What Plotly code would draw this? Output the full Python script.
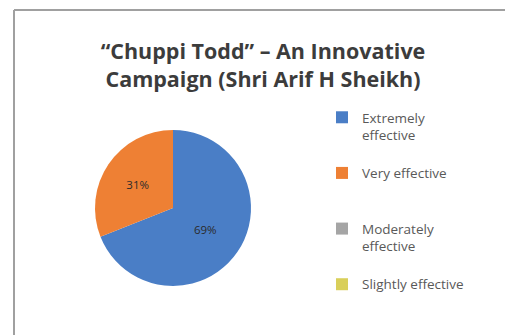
import plotly.graph_objects as go

categories = ["Extremely<br>effective", "Very effective", "Moderately<br>effective", "Slightly effective"]
values = [69, 31, 0, 0]
colors = ["#4A7EC6", "#EE8034", "#A5A5A5", "#D9CF5A"]
title_lines = ["“Chuppi Todd” – An Innovative", "Campaign (Shri Arif H Sheikh)"]

# extra blank lines used only to space the legend entries like the reference
legend_pad = ["<br> ", "<br> <br> ", "<br> ", ""]
legend_labels = [c + p for c, p in zip(categories, legend_pad)]

W, H = 505, 335
cx, cy, d = 173, 208, 156

fig = go.Figure(go.Pie(
    labels=legend_labels,
    values=values,
    marker=dict(colors=colors, line=dict(width=0)),
    sort=False,
    direction="clockwise",
    rotation=0,
    texttemplate="%{percent:.0%}",
    textposition="inside",
    insidetextfont=dict(family="Open Sans", size=11.5, color="#2b2b2b"),
    hovertext=categories,
    hoverinfo="text+percent",
    domain=dict(x=[(cx - d / 2) / W, (cx + d / 2) / W],
                y=[1 - (cy + d / 2) / H, 1 - (cy - d / 2) / H]),
))

fig.update_layout(
    width=W, height=H,
    margin=dict(l=0, r=0, t=0, b=0),
    paper_bgcolor="white",
    title=dict(text="<br>".join(title_lines), x=263 / W, xanchor="center",
               y=1 - 59 / H, yanchor="middle",
               font=dict(family="Open Sans", size=21.5, color="#3C3C3C", weight="bold")),
    legend=dict(x=322 / W, y=1 - 102 / H, xanchor="left", yanchor="top",
                font=dict(family="Open Sans", size=13.5, color="#595959"),
                valign="top", itemwidth=30, tracegroupgap=0,
                bgcolor="rgba(0,0,0,0)"),
    shapes=[
        dict(type="line", xref="paper", yref="paper",
             x0=14 / W, x1=1, y0=1 - 10 / H, y1=1 - 10 / H,
             line=dict(color="#A0A0A0", width=2), layer="below"),
        dict(type="line", xref="paper", yref="paper",
             x0=14 / W, x1=14 / W, y0=0, y1=1 - 10 / H,
             line=dict(color="#A0A0A0", width=2), layer="below"),
    ],
)

fig.write_html("out.html", config={"displayModeBar": False},
               post_script="document.body.style.margin='0px';document.body.style.overflow='hidden';")
